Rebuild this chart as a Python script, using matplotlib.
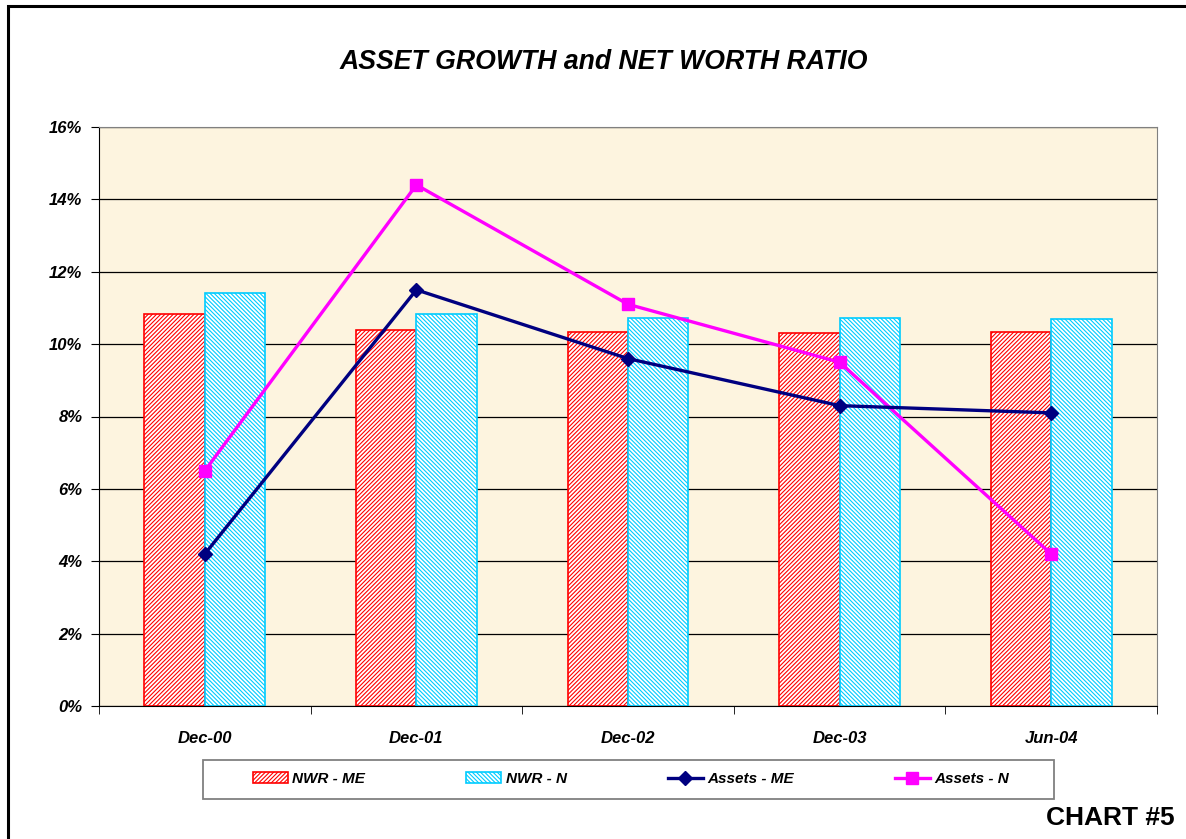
import matplotlib.pyplot as plt
import numpy as np
from matplotlib.patches import Rectangle
from matplotlib.ticker import FuncFormatter, MultipleLocator, FixedLocator

plt.rcParams['font.family'] = ['Liberation Sans', 'DejaVu Sans']
plt.rcParams['hatch.linewidth'] = 0.8

# Data
categories = ["Dec-00", "Dec-01", "Dec-02", "Dec-03", "Jun-04"]
nwr_me = [10.83, 10.39, 10.33, 10.30, 10.33]
nwr_n = [11.42, 10.83, 10.72, 10.72, 10.70]
assets_me = [4.2, 11.5, 9.6, 8.3, 8.1]
assets_n = [6.5, 14.4, 11.1, 9.5, 4.2]

fig = plt.figure(figsize=(11.86, 8.39), dpi=100)
fig.patch.set_facecolor("white")

# outer black frame (runs off the right/bottom edges)
fig.add_artist(Rectangle((8 / 1186, -0.01), 1.05, 1 - 6 / 839 + 0.01,
                         transform=fig.transFigure, fill=False,
                         edgecolor="black", linewidth=2.2))

ax = fig.add_axes([99 / 1186, 1 - 706 / 839, (1157 - 99) / 1186, (706 - 127) / 839])
ax.set_facecolor("#FDF4DF")

x = np.arange(len(categories))
w = 0.285

b1 = ax.bar(x - w / 2, nwr_me, width=w, facecolor="white", edgecolor="#FF0000",
            hatch="////////", linewidth=1.2, label="NWR - ME", zorder=2)
b2 = ax.bar(x + w / 2, nwr_n, width=w, facecolor="white", edgecolor="#00CCFF",
            hatch="\\\\\\\\\\\\\\\\", linewidth=1.2, label="NWR - N", zorder=2)

l1, = ax.plot(x, assets_me, color="#000080", linewidth=2.4, marker="D",
              markersize=7, label="Assets - ME", zorder=4)
l2, = ax.plot(x, assets_n, color="#FF00FF", linewidth=2.4, marker="s",
              markersize=9, label="Assets - N", zorder=3)

ax.set_xlim(-0.5, len(categories) - 0.5)
ax.set_ylim(0, 16)
ax.yaxis.set_major_locator(MultipleLocator(2))
ax.yaxis.set_major_formatter(FuncFormatter(lambda v, p: f"{v:.0f}%"))
ax.grid(axis="y", color="black", linewidth=0.9, zorder=1)
ax.set_axisbelow(True)

ax.set_xticks(x)
ax.set_xticklabels(categories)
ax.xaxis.set_minor_locator(FixedLocator(np.arange(len(categories) + 1) - 0.5))
ax.tick_params(axis="x", which="major", length=0, pad=18)
ax.tick_params(axis="x", which="minor", length=6, color="black", direction="out")
ax.tick_params(axis="y", length=6, color="black", direction="out", pad=6)

for lab in ax.get_xticklabels() + ax.get_yticklabels():
    lab.set_fontweight("bold")
    lab.set_fontstyle("italic")
    lab.set_fontsize(12)

for side in ["top", "right"]:
    ax.spines[side].set_color("#808080")
ax.spines["left"].set_color("black")
ax.spines["bottom"].set_color("black")

fig.text(604 / 1186, 1 - 62 / 839, "ASSET GROWTH and NET WORTH RATIO",
         ha="center", va="center", fontsize=19.2, fontweight="bold", fontstyle="italic")

# legend box drawn separately, legend itself without frame
fig.add_artist(Rectangle((203 / 1186, 1 - 799 / 839), (1054 - 203) / 1186, 39 / 839,
                         transform=fig.transFigure, facecolor="white",
                         edgecolor="#808080", linewidth=1.3, zorder=1))
leg = fig.legend([b1, b2, l1, l2], ["NWR - ME", "NWR - N", "Assets - ME", "Assets - N"],
                 loc="center", bbox_to_anchor=(631 / 1186, 1 - 779 / 839),
                 ncol=4, frameon=False,
                 prop={"weight": "bold", "style": "italic", "size": 11},
                 handlelength=2.3, handletextpad=0.3, columnspacing=6.6)
leg.set_zorder(2)

fig.text(1175 / 1186, 1 - 818 / 839, "CHART #5", ha="right", va="center",
         fontsize=19, fontweight="bold")

fig.savefig("out.png", dpi=100)
